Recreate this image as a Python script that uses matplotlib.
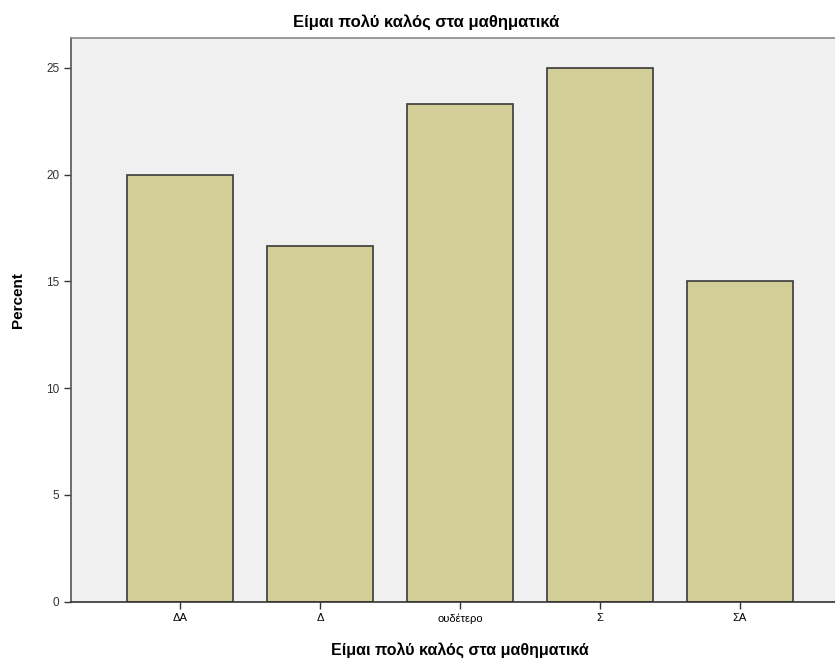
import matplotlib
matplotlib.use("Agg")
import numpy as np
import matplotlib.pyplot as plt

# data (percent)
categories = ["ΔΑ", "Δ", "ουδέτερο", "Σ", "ΣΑ"]
percent = [20.0, 16.67, 23.33, 25.0, 15.0]
y_ticks = [0, 5, 10, 15, 20, 25]
title = "Είμαι πολύ καλός στα μαθηματικά"

plt.rcParams['font.family'] = ['Liberation Sans', 'DejaVu Sans']

fig = plt.figure(figsize=(8.35, 6.65), dpi=100)
ax = fig.add_axes([71/835, 1 - 601.5/665, 1 - 71/835, (601.5 - 38)/665])
ax.set_facecolor("#F0F0F0")

x = np.arange(len(categories))
ax.bar(x, percent, width=0.757, color="#D3CE97", edgecolor="#3a3a3a", linewidth=1.2)

ax.set_xlim(-0.78, 4.68)
ax.set_ylim(0, 26.4)
ax.set_xticks(x)
ax.set_xticklabels(categories, fontsize=8)
ax.set_yticks(y_ticks)
ax.set_yticklabels([str(v) for v in y_ticks], fontsize=8.5, color="#333333")
ax.tick_params(axis="both", direction="out", length=5, width=1, color="#333333")

ax.spines["right"].set_visible(False)
ax.spines["top"].set_color("#888888")
ax.spines["left"].set_color("#555555")
ax.spines["bottom"].set_color("#333333")
for s in ax.spines.values():
    s.set_linewidth(1.2)

fig.text(426/835, 1 - 22/665, title, ha="center", va="center",
         fontsize=12, fontweight="bold")
fig.text(460/835, 1 - 650/665, title, ha="center", va="center",
         fontsize=11.5, fontweight="bold")
fig.text(18/835, 1 - 300/665, "Percent", ha="center", va="center",
         rotation=90, fontsize=11, fontweight="bold")

fig.savefig("out.png", dpi=100)
